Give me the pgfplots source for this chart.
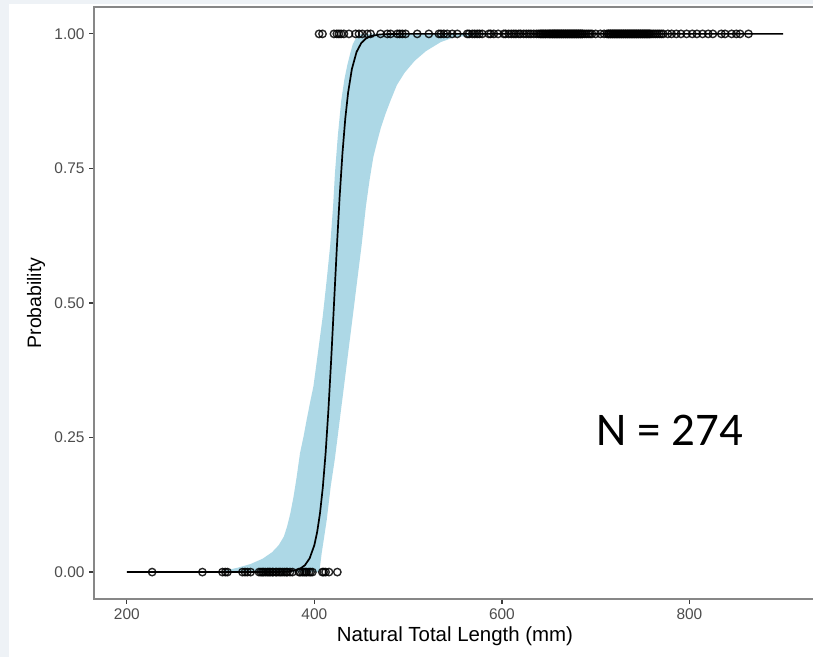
\documentclass[border=0pt]{standalone}
\usepackage{pgfplots}
\pgfplotsset{compat=1.18}
\usepackage{fontspec}
\setmainfont{Liberation Sans}
\newfontfamily\calibri{Carlito}
\definecolor{bgstrip}{RGB}{238,242,246}
\definecolor{band}{RGB}{173,216,230}
\definecolor{boxgray}{RGB}{135,135,135}
\definecolor{tickgray}{RGB}{60,60,60}
\definecolor{labgray}{RGB}{77,77,77}

\pgfplotstableread{
x p
200 0
350 0.0001
360 0.0002
370 0.0008
380 0.0032
385 0.0064
390 0.0129
395 0.0256
400 0.0501
403 0.0745
406 0.1091
409 0.1571
412 0.2210
415 0.3015
418 0.3965
421 0.5000
424 0.6035
427 0.6985
430 0.7790
433 0.8429
436 0.8909
440 0.9346
445 0.9664
450 0.9830
455 0.9915
460 0.9958
470 0.9990
480 0.9997
490 1
900 1
}\fitted

% confidence band: upper bound (left edge) forward, then lower bound (right edge) backward
\pgfplotstableread{
x p
296 0
305 0.003
318 0.008
332 0.015
345 0.025
355 0.037
362 0.050
367.5 0.066
371 0.085
374.5 0.110
377.8 0.140
381 0.175
384.7 0.221
388.5 0.252
391.8 0.283
396 0.320
399 0.345
404 0.410
409 0.476
413 0.540
417 0.609
420 0.680
422 0.742
425 0.810
428.6 0.875
432 0.915
435 0.941
438 0.962
441 0.981
445 0.994
450 1
600 1
575 0.998
549.6 0.994
535 0.985
519 0.968
507 0.950
496.3 0.928
488 0.905
481 0.875
476 0.852
471 0.826
467 0.800
463 0.772
459 0.730
455 0.680
450.5 0.609
441 0.476
431.5 0.344
421.9 0.211
417.5 0.160
413.2 0.097
410 0.060
407.8 0.035
406 0.010
405 0
}\band

\pgfplotstableread{
x y
227 0
280.6 0
302 0
305 0
307.3 0
323.3 0
326 0
328.6 0
332 0
341 0
343 0
344.6 0
346 0
348 0
350 0
351.6 0
353 0
355.2 0
356 0
358.8 0
360 0
362.3 0
364 0
365.9 0
368 0
370 0
371.2 0
374 0
376.6 0
383.7 0
385 0
387.2 0
389 0
390.7 0
392 0
394.3 0
396 0
397.9 0
408.5 0
410 0
412 0
415.6 0
424.5 0
}\zeros

\pgfplotstableread{
x y
405 1
408.7 1
420.9 1
424 1
426.2 1
428.5 1
431.5 1
436.9 1
444 1
447.6 1
451.1 1
456.5 1
460 1
470.6 1
477.8 1
481.3 1
488.4 1
491 1
493.8 1
497.3 1
509.7 1
522.1 1
532.8 1
535 1
538.1 1
541.7 1
547 1
552.4 1
563 1
565 1
568.4 1
571 1
573.7 1
576 1
579 1
586.1 1
588 1
591.4 1
596 1
602 1
604 1
607.3 1
610 1
612.7 1
615 1
618 1
620 1
623.3 1
626 1
628.7 1
631 1
634 1
637 1
639.3 1
641 1
642 1
643.5 1
644.6 1
646 1
647 1
648.5 1
650 1
651 1
652 1
653.5 1
654 1
655.5 1
656 1
657.5 1
658 1
659.5 1
660 1
661.5 1
662 1
663.5 1
664 1
665.5 1
666 1
667.5 1
668 1
669.5 1
670 1
671.5 1
672 1
673.5 1
674 1
675.5 1
676 1
677.5 1
678 1
679.5 1
680 1
681.5 1
682 1
683.5 1
684 1
685.5 1
686 1
688 1
690 1
692 1
694 1
696 1
700 1
705 1
709 1
712 1
713.5 1
714 1
715.5 1
716 1
717.5 1
718 1
719.5 1
720 1
721.5 1
722 1
723.5 1
724 1
725.5 1
726 1
727.5 1
728 1
729.5 1
730 1
731.5 1
732 1
733.5 1
734 1
735.5 1
736 1
737.5 1
738 1
739.5 1
740 1
741.5 1
742 1
743.5 1
744 1
745.5 1
746 1
747.5 1
748 1
749.5 1
750 1
751.5 1
752 1
753.5 1
754 1
755.5 1
756 1
757.5 1
758 1
760 1
762 1
764 1
766 1
768 1
770 1
772 1
777 1
781 1
786 1
791 1
797 1
803 1
808 1
814 1
820 1
825 1
834 1
838 1
845 1
850 1
854 1
863 1
}\ones

\begin{document}
\begin{tikzpicture}[x=1bp,y=1bp]
\fill[bgstrip] (0,0) rectangle (813,657);
\fill[white] (9,0) rectangle (813,653);
\begin{axis}[
  at={(94bp,58bp)}, anchor=south west,
  scale only axis, width=722bp, height=592bp,
  xmin=165, xmax=935, ymin=-0.05, ymax=1.05,
  xtick={200,400,600,800},
  ytick={0,0.25,0.5,0.75,1},
  /pgf/number format/assume math mode=true,
  yticklabel style={/pgf/number format/fixed, /pgf/number format/fixed zerofill, /pgf/number format/precision=2, xshift=-1bp},
  xticklabel style={yshift=-1bp},
  xtick pos=left, ytick pos=left,
  tick align=outside,
  major tick length=5bp,
  every tick/.style={draw=tickgray, line width=1.2bp},
  axis line style={draw=boxgray, line width=1.3bp},
  ticklabel style={font=\fontsize{15.5}{17}\selectfont, text=labgray},
  xlabel={Natural Total Length (mm)},
  ylabel={Probability},
  label style={text=black},
  xlabel style={font=\fontsize{20.5}{22}\selectfont, at={(axis description cs:0.5,-0.0625)}, anchor=center},
  ylabel style={font=\fontsize{19.5}{21}\selectfont, at={(axis description cs:-0.0803,0.5)}, anchor=center},
]
\addplot[fill=band, draw=none] table[x=x, y=p] {\band} -- cycle;
\addplot[black, line width=1.7bp, no markers] table[x=x, y=p] {\fitted};
\addplot[only marks, mark=o, mark size=3.7bp,
  mark options={draw=black, draw opacity=0.85, line width=1.4bp}] table[x=x, y=y] {\zeros};
\addplot[only marks, mark=o, mark size=3.7bp,
  mark options={draw=black, draw opacity=0.85, line width=1.4bp}] table[x=x, y=y] {\ones};
\end{axis}
% tick marks (decoration), outside the panel
\foreach \tx in {126.8,314.3,501.9,689.4} {\draw[tickgray, line width=1.2] (\tx,57.4) -- (\tx,52.5);}
\foreach \ty in {84.9,219.4,354.0,488.5,623.1} {\draw[tickgray, line width=1.2] (93.4,\ty) -- (88.5,\ty);}
\node[font=\calibri\fontsize{47}{50}\selectfont, anchor=base west, inner sep=0pt] at (596.7,211) {N = 274};
\pgfresetboundingbox
\useasboundingbox (0,0) rectangle (813,657);
\end{tikzpicture}
\end{document}
